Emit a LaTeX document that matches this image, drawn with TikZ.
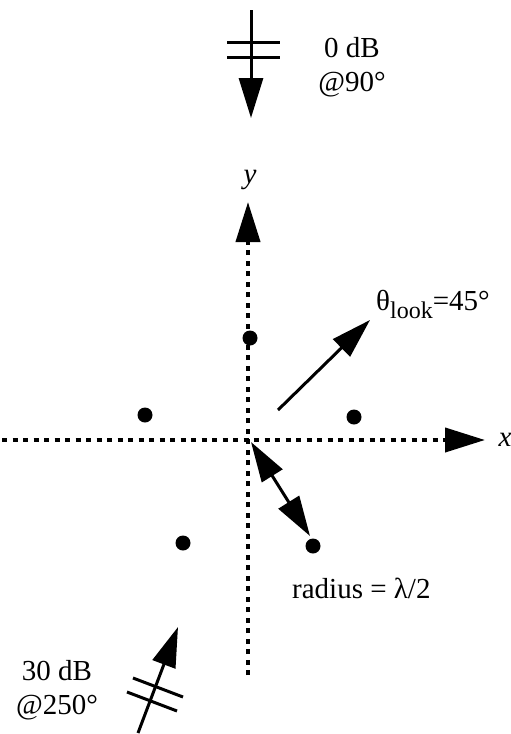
\documentclass[tikz,border=0pt]{standalone}
\usepackage{fontspec}
\setmainfont{Liberation Serif}
\usetikzlibrary{arrows.meta}
\tikzset{
  >={Triangle[length=40pt,width=24pt]},
  font=\fontsize{29}{34}\selectfont,
  axis/.style={line width=4pt, dash pattern=on 5pt off 5.5pt, ->},
  sig/.style={line width=3pt, ->},
  bar/.style={line width=3pt},
  elem/.style={circle, fill=black, minimum size=15pt, inner sep=0pt},
  lab/.style={inner sep=0pt, align=center}
}
\begin{document}
\begin{tikzpicture}[x=1pt,y=-1pt]
  \useasboundingbox (0,0) rectangle (511,734);
  % axes
  \coordinate (ybot) at (248,675); \coordinate (ytop) at (248,202);
  \coordinate (xleft) at (2,440);  \coordinate (xright) at (485,440);
  \draw[axis] (ybot) -- (ytop);
  \draw[axis] (xleft) -- (xright);
  \node[lab] (xlab) at (505,440) {\textit{x}};
  \node[lab] (ylab) at (250,180) {\textit{y}};

  % array elements
  \node[elem] (e1) at (250,338) {};
  \node[elem] (e2) at (145,415) {};
  \node[elem] (e3) at (354,417) {};
  \node[elem] (e4) at (183,543) {};
  \node[elem] (e5) at (313,546) {};

  % look direction
  \coordinate (lk0) at (278,410); \coordinate (lk1) at (370,320);
  \draw[sig] (lk0) -- (lk1);
  \node[lab,anchor=base west] (look) at (376,310)
    {θ\raisebox{-8pt}{\fontsize{24}{24}\selectfont look}=45°};

  % radius
  \coordinate (ctr) at (251,442); \coordinate (rad) at (310,536);
  \draw[sig,<->] (ctr) -- (rad);
  \node[lab,anchor=base west] (radlab) at (292,598) {radius = λ/2};

  % signal at 90 deg
  \coordinate (s0a) at (251,10); \coordinate (s0b) at (251,118);
  \draw[sig] (s0a) -- (s0b);
  \draw[bar] (227,42) -- (280,42);
  \draw[bar] (227,57) -- (280,57);
  \node[lab] (s0lab) at (352,67) {0 dB\\@90°};

  % jammer at 250 deg
  \coordinate (s1a) at (138,733); \coordinate (s1b) at (178,627);
  \draw[sig] (s1a) -- (s1b);
  \draw[bar] (133,678) -- (183,697);
  \draw[bar] (127,692) -- (177,711);
  \node[lab] (s1lab) at (57,690) {30 dB\\@250°};
\end{tikzpicture}
\end{document}
